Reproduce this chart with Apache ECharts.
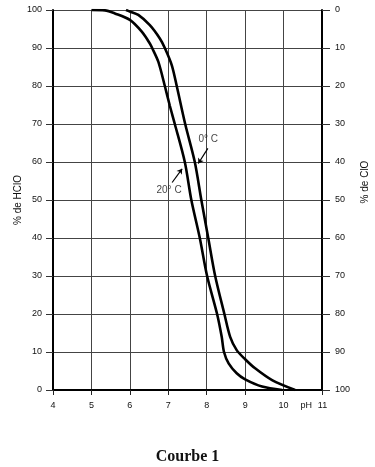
<!DOCTYPE html>
<html>
<head>
<meta charset="utf-8">
<script src="https://cdn.jsdelivr.net/npm/echarts@6/dist/echarts.min.js"></script>
<style>
html,body{margin:0;padding:0;background:#fff;}
#c{width:375px;height:467px;}
</style>
</head>
<body>
<div id="c"></div>
<script>
// pH axis
const phMin = 4, phMax = 11, phStep = 1;
// % axes
const pctMin = 0, pctMax = 100, pctStep = 10;

// Courbe 20 °C (left curve): pH and % de HClO
const ph20 = [5.0, 5.35, 5.61, 6.0, 6.31, 6.52, 6.58, 6.74, 6.91, 7.04, 7.17, 7.43, 7.6, 7.82, 8.01, 8.27, 8.39, 8.45, 8.57, 8.78, 9.0, 9.44, 9.96];
const hclo20 = [100, 99.9, 99.1, 97.4, 94.3, 91.2, 90, 86.4, 80, 74.8, 70, 60, 50, 40, 30, 20, 14, 10, 7.0, 4.4, 2.8, 0.9, 0];

// Courbe 0 °C (right curve)
const ph0 = [5.9, 6.0, 6.22, 6.52, 6.78, 6.91, 7.09, 7.22, 7.44, 7.69, 7.86, 8.04, 8.22, 8.46, 8.61, 8.78, 9.0, 9.26, 9.7, 10.3];
const hclo0 = [100, 99.6, 98.7, 96, 92.5, 90, 85.5, 80, 70, 60, 50, 40, 30, 20, 14, 10.5, 8.1, 5.7, 2.6, 0];

// annotations
const annoText = ['0° C', '20° C'];
const annoPh = [8.04, 7.02];
const annoVal = [65.9, 52.5];
// leader lines: [startPh, startVal, endPh, endVal]
const leader0 = [8.03, 63.6, 7.78, 59.6];
const leader20 = [7.10, 54.6, 7.36, 58.2];

const zip = (a, b) => a.map((v, i) => [v, b[i]]);
const font = "'Liberation Sans', Arial, sans-serif";
const ink = '#111';

const chart = echarts.init(document.getElementById('c'), null, {renderer: 'canvas'});
chart.setOption({
  backgroundColor: '#fff',
  animation: false,
  title: {
    text: 'Courbe 1',
    left: 'center',
    top: 444,
    textStyle: {fontFamily: "'Liberation Serif', 'Times New Roman', serif", fontWeight: 'bold', fontSize: 16, color: ink}
  },
  grid: {left: 53, right: 53, top: 10, bottom: 77, containLabel: false, outerBoundsMode: 'none'},
  xAxis: {
    type: 'value', min: phMin, max: phMax, interval: phStep,
    axisLine: {show: true, lineStyle: {color: '#000', width: 2}},
    axisTick: {show: true, length: 5, lineStyle: {color: '#222', width: 1}},
    axisLabel: {
      fontFamily: font, fontSize: 9, color: ink, margin: 11,
      formatter: v => v === phMax ? '{ph|pH}{n|' + v + '}{sp| }' : String(v),
      rich: {
        ph: {width: 17, align: 'left', fontFamily: font, fontSize: 9, color: ink},
        n: {width: 10, align: 'center', fontFamily: font, fontSize: 9, color: ink},
        sp: {width: 16, fontFamily: font, fontSize: 9, color: ink}
      }
    },
    splitLine: {show: true, lineStyle: {color: '#444', width: 1}}
  },
  yAxis: [{
    type: 'value', min: pctMin, max: pctMax, interval: pctStep, position: 'left',
    name: '% de HClO', nameLocation: 'middle', nameGap: 30, nameRotate: 90, nameMoveOverlap: false,
    nameTextStyle: {fontFamily: font, fontSize: 10, color: ink},
    axisLine: {show: true, lineStyle: {color: '#000', width: 2}},
    axisTick: {show: true, length: 7, lineStyle: {color: '#333', width: 1}},
    axisLabel: {fontFamily: font, fontSize: 9, color: ink, margin: 11},
    splitLine: {show: true, lineStyle: {color: '#444', width: 1}}
  }, {
    type: 'value', min: pctMin, max: pctMax, interval: pctStep, position: 'right', inverse: true,
    name: '% de ClO', nameLocation: 'middle', nameGap: 38, nameRotate: 90, nameMoveOverlap: false,
    nameTextStyle: {fontFamily: font, fontSize: 10, color: ink, padding: [0, 0, 0, 36]},
    axisLine: {show: true, lineStyle: {color: '#000', width: 2}},
    axisTick: {show: true, length: 8, lineStyle: {color: '#333', width: 1}},
    axisLabel: {fontFamily: font, fontSize: 9, color: ink, margin: 13, align: 'left'},
    splitLine: {show: false}
  }],
  series: [{
    name: '20° C', type: 'line', smooth: 0.3, showSymbol: false,
    data: zip(ph20, hclo20),
    lineStyle: {color: '#000', width: 2.6}, itemStyle: {color: '#000'},
    markLine: {
      silent: true, symbol: ['none', 'arrow'], symbolSize: 5,
      label: {show: false},
      lineStyle: {color: '#000', width: 1.2, type: 'solid', curveness: -0.3},
      data: [[{coord: [leader20[0], leader20[1]]}, {coord: [leader20[2], leader20[3]]}]]
    }
  }, {
    name: '0° C', type: 'line', smooth: 0.3, showSymbol: false,
    data: zip(ph0, hclo0),
    lineStyle: {color: '#000', width: 2.6}, itemStyle: {color: '#000'},
    markLine: {
      silent: true, symbol: ['none', 'arrow'], symbolSize: 5,
      label: {show: false},
      lineStyle: {color: '#000', width: 1.2, type: 'solid', curveness: 0.3},
      data: [[{coord: [leader0[0], leader0[1]]}, {coord: [leader0[2], leader0[3]]}]]
    }
  }, {
    name: 'labels', type: 'scatter', symbolSize: 0,
    data: annoText.map((t, i) => ({value: [annoPh[i], annoVal[i]], name: t})),
    label: {show: true, position: 'inside', formatter: p => p.name, fontFamily: font, fontSize: 10, color: ink}
  }]
});
</script>
</body>
</html>
